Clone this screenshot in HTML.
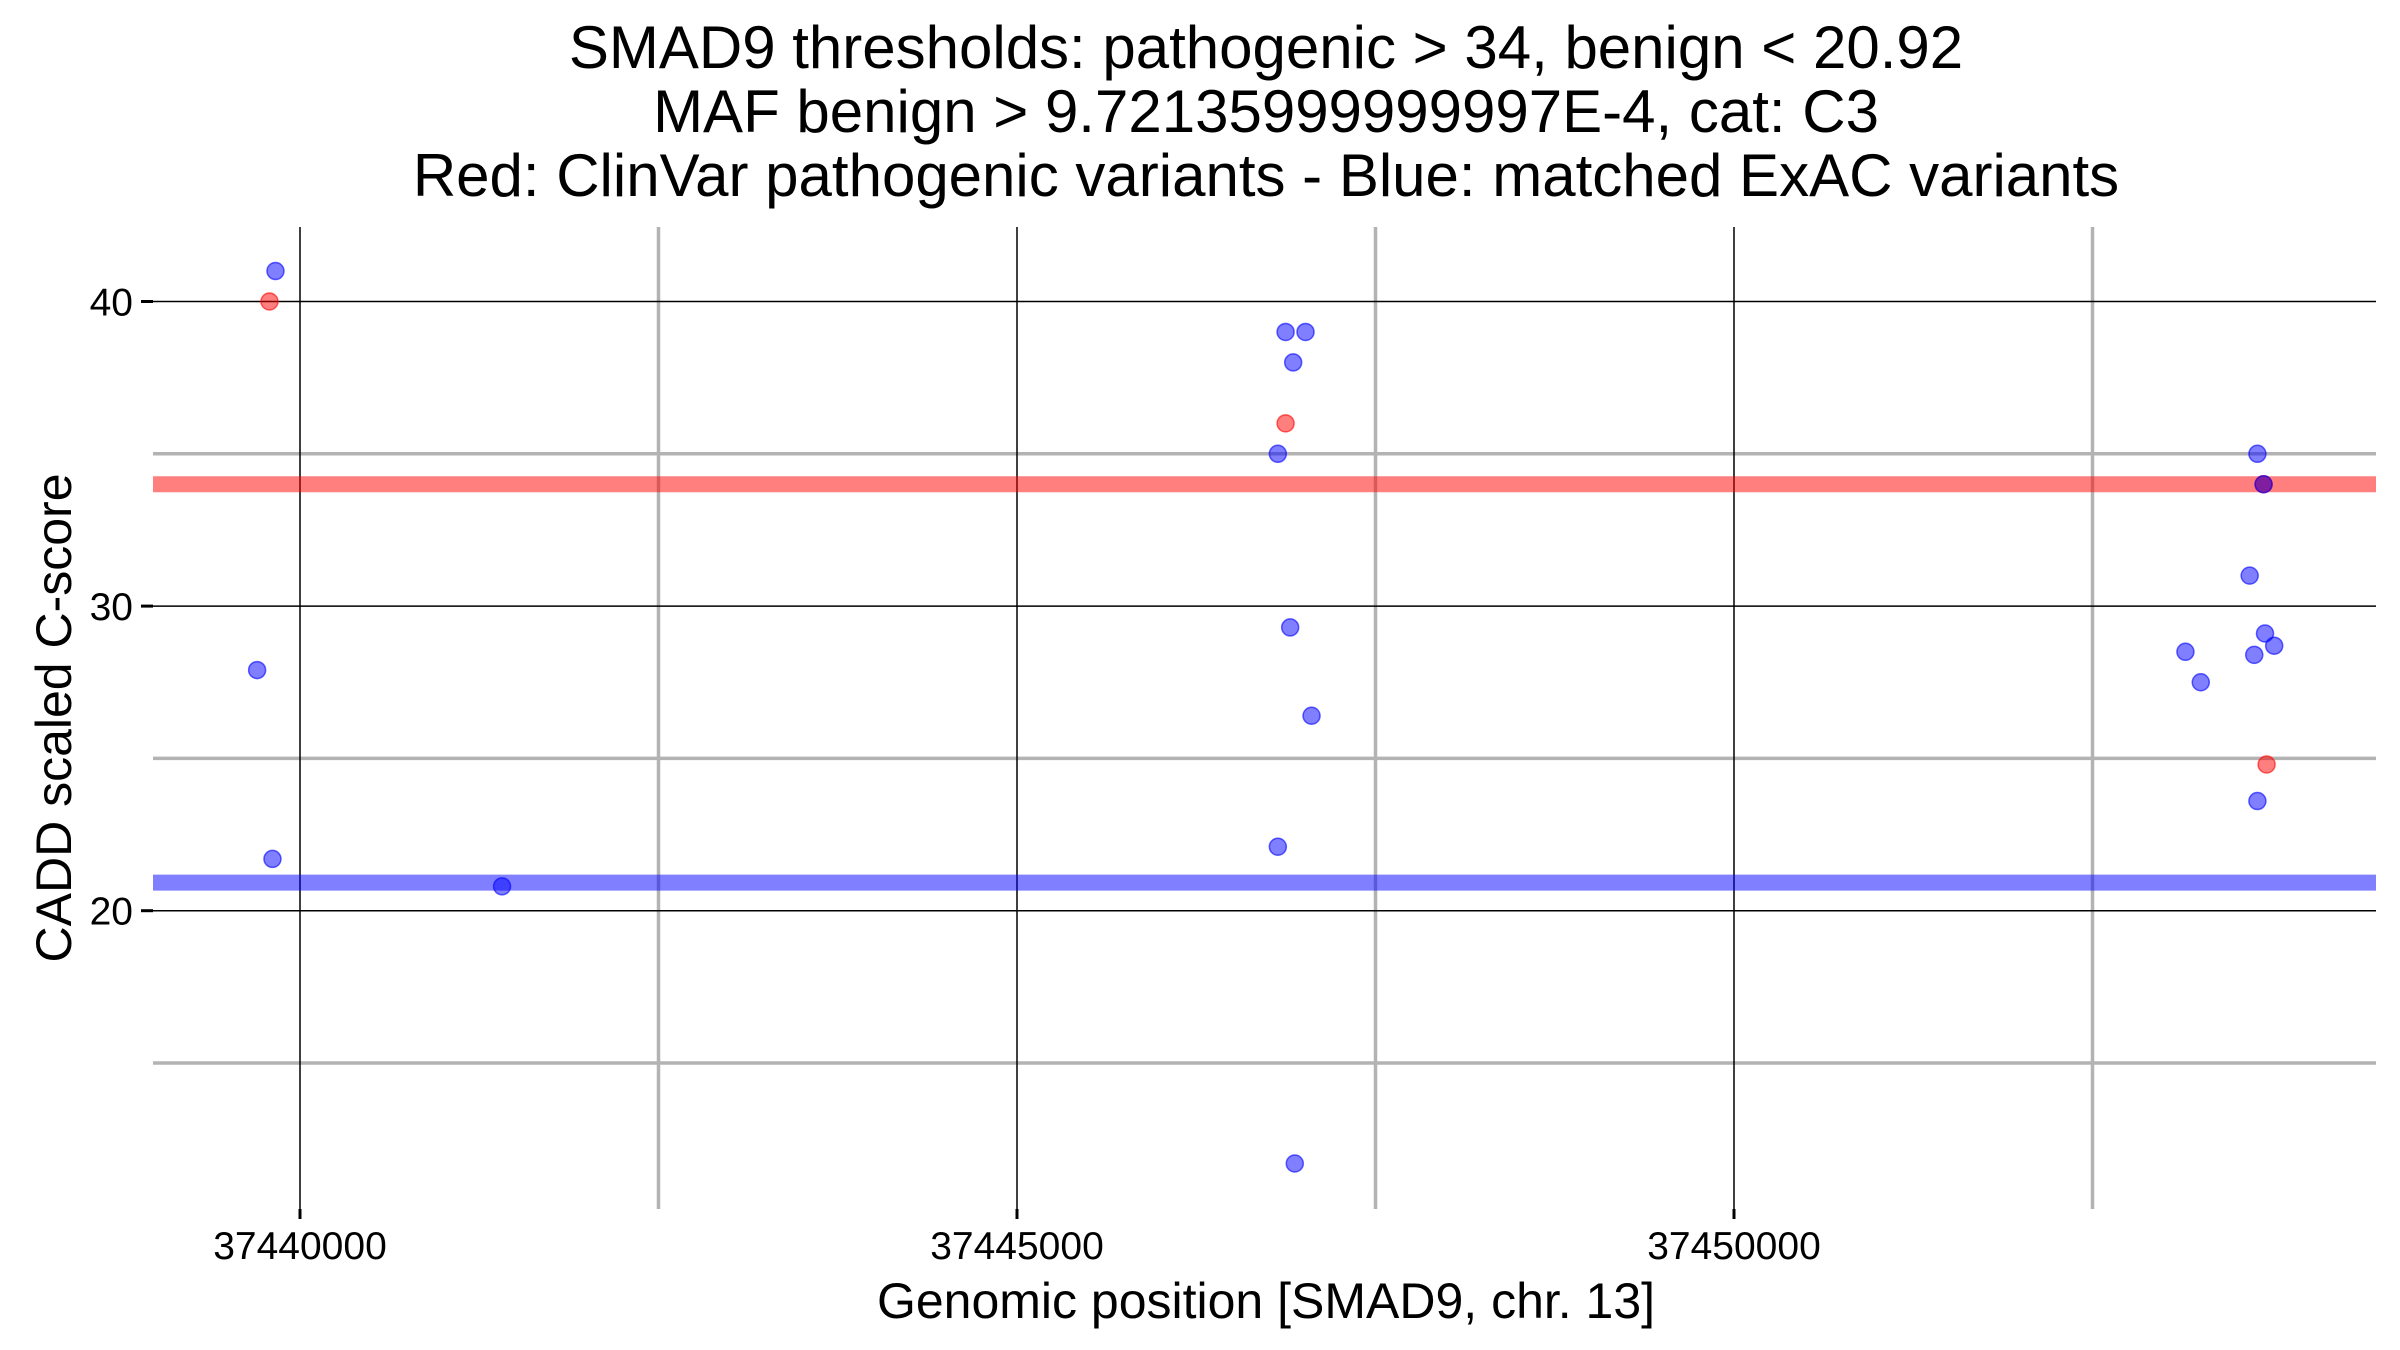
<!DOCTYPE html>
<html><head><meta charset="utf-8"><style>
html,body{margin:0;padding:0;background:#fff;}
svg{display:block;font-family:"Liberation Sans",sans-serif;}
</style></head><body>
<svg id="chart" width="2400" height="1350" viewBox="0 0 2400 1350" xmlns="http://www.w3.org/2000/svg">
<g font-size="60" text-anchor="middle" fill="#000">
<text x="1266" y="68">SMAD9 thresholds: pathogenic &gt; 34, benign &lt; 20.92</text>
<text x="1266" y="132">MAF benign &gt; 9.72135999999997E-4, cat: C3</text>
<text x="1266" y="196">Red: ClinVar pathogenic variants - Blue: matched ExAC variants</text>
</g>
<g id="grid"></g>
<g id="bands"></g>
<g id="points"></g>
<g id="axes"></g>
<text x="1266" y="1318" font-size="50" text-anchor="middle">Genomic position [SMAD9, chr. 13]</text>
<text transform="translate(71,718) rotate(-90)" font-size="50" text-anchor="middle">CADD scaled C-score</text>
</svg>
<script>
const xMajorTicks = [37440000, 37445000, 37450000];
const xMinorTicks = [37442500, 37447500, 37452500];
const yMajorTicks = [20, 30, 40];
const yMinorTicks = [15, 25, 35];
const thresholdPathogenic = 34;
const thresholdBenign = 20.92;
const redX = [37439787, 37446873, 37453693, 37453714];
const redY = [40, 36, 34, 24.8];
const blueX = [37439829, 37439701, 37439808, 37441409, 37446873, 37447012, 37446926, 37446819, 37446905, 37447054, 37446819, 37446937, 37453650, 37453693, 37453596, 37453148, 37453628, 37453703, 37453767, 37453255, 37453650];
const blueY = [41, 27.9, 21.7, 20.8, 39, 39, 38, 35, 29.3, 26.4, 22.1, 11.7, 35, 34, 31, 28.5, 28.4, 29.1, 28.7, 27.5, 23.6];

const L=153, R=2376, T=227, B=1209;
const X0=37440000, X1=37450000, PX0=300, PX1=1734;
const Y0=20, Y1=40, PY0=910.7, PY1=301.5;
function sx(v){return PX0+(v-X0)*(PX1-PX0)/(X1-X0);}
function sy(v){return PY0+(v-Y0)*(PY1-PY0)/(Y1-Y0);}
const NS="http://www.w3.org/2000/svg";
function mk(tag,attrs,parent){const e=document.createElementNS(NS,tag);for(const k in attrs)e.setAttribute(k,attrs[k]);parent.appendChild(e);return e;}
const grid=document.getElementById('grid'), bands=document.getElementById('bands'), pts=document.getElementById('points'), axes=document.getElementById('axes');
yMinorTicks.forEach(v=>{const e=mk('line',{x1:L,x2:R,y1:sy(v),y2:sy(v),stroke:'#b3b3b3','stroke-width':3.5},grid);

});
xMinorTicks.forEach(v=>{const e=mk('line',{x1:sx(v),x2:sx(v),y1:T,y2:B,stroke:'#b3b3b3','stroke-width':3.5},grid);

});
yMajorTicks.forEach(v=>{const e=mk('line',{x1:L,x2:R,y1:sy(v),y2:sy(v),stroke:'#000','stroke-width':1.5},grid);


const t=mk('line',{x1:L-12,x2:L,y1:sy(v),y2:sy(v),stroke:'#000','stroke-width':3},axes);


const l=mk('text',{x:L-20,y:sy(v)+14,'font-size':39,'text-anchor':'end'},axes);l.textContent=v;

});
xMajorTicks.forEach(v=>{const e=mk('line',{x1:sx(v),x2:sx(v),y1:T,y2:B,stroke:'#000','stroke-width':1.5},grid);


const t=mk('line',{x1:sx(v),x2:sx(v),y1:B,y2:B+10,stroke:'#000','stroke-width':3},axes);


const l=mk('text',{x:sx(v),y:B+50,'font-size':39,'text-anchor':'middle'},axes);l.textContent=v;

});
const rb=mk('line',{x1:L,x2:R,y1:sy(thresholdPathogenic),y2:sy(thresholdPathogenic),stroke:'rgba(255,0,0,0.5)','stroke-width':16},bands);


const bb=mk('line',{x1:L,x2:R,y1:sy(thresholdBenign),y2:sy(thresholdBenign),stroke:'rgba(0,0,255,0.5)','stroke-width':16},bands);


redX.forEach((x,i)=>{const c=mk('circle',{cx:sx(x),cy:sy(redY[i]),r:8.5,fill:'rgba(255,0,0,0.5)',stroke:'rgba(255,0,0,0.6)','stroke-width':1.5},pts);

});
blueX.forEach((x,i)=>{const c=mk('circle',{cx:sx(x),cy:sy(blueY[i]),r:8.5,fill:'rgba(0,0,255,0.5)',stroke:'rgba(0,0,255,0.6)','stroke-width':1.5},pts);

});
</script>
</body></html>
